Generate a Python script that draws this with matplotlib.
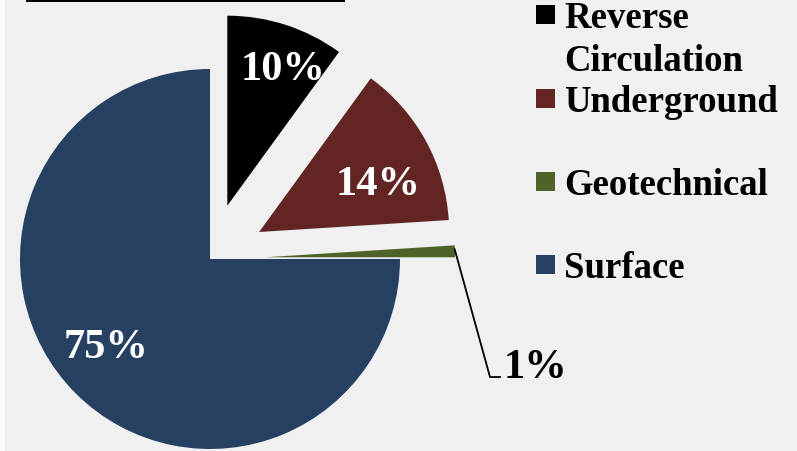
import numpy as np
import matplotlib
matplotlib.use("Agg")
import matplotlib.pyplot as plt
from matplotlib.patches import Rectangle

plt.rcParams['font.family'] = ['Liberation Serif', 'DejaVu Serif']
plt.rcParams['font.weight'] = 'bold'

# drilling type share (%)
categories = ['Reverse\nCirculation', 'Underground', 'Geotechnical', 'Surface']
shares = [10, 14, 1, 75]
colors = ['#000000', '#632523', '#4f6228', '#254061']
explode = [0.295, 0.295, 0.29, 0.0]
# label placement: fraction of radius, angle offset from slice middle (deg)
label_dist = [0.80, 0.683, None, 0.704]
label_rot = [-3.5, -4.9, 0.0, -6.1]

W, H = 797, 452
bg = '#f0f0f0'
fig = plt.figure(figsize=(W / 100, H / 100), dpi=100, facecolor=bg)
ax = fig.add_axes([0, 0, 1, 1])
ax.set_facecolor(bg)

# pie laid out in pixel units (y measured upward); explode is absolute here
cx, cy, R = 210, H - 260, 190
wedges, _ = ax.pie(shares, colors=colors, explode=[e * R for e in explode],
                   startangle=90, counterclock=False, center=(cx, cy), radius=R,
                   wedgeprops=dict(linewidth=0))
ax.set_xlim(0, W)
ax.set_ylim(0, H)
ax.set_aspect('equal')
ax.set_axis_off()

for w, val, d, rot in zip(wedges, shares, label_dist, label_rot):
    th = np.deg2rad((w.theta1 + w.theta2) / 2 + rot)
    wx, wy = w.center
    if d is not None:
        ax.text(wx + w.r * d * np.cos(th), wy + w.r * d * np.sin(th), f'{val}%',
                color='white', fontsize=30.5, fontweight='bold',
                ha='center', va='center_baseline')
    else:
        # small slice: label outside with an elbow leader line
        sx = wx + w.r * np.cos(np.deg2rad(w.theta2))
        sy = wy + w.r * np.sin(np.deg2rad(w.theta2)) - 4
        ax.plot([sx, 490, 500], [sy, H - 378, H - 378], color='black', lw=1.3,
                solid_joinstyle='miter')
        ax.text(504, H - 378, f'{val}%', color='black', fontsize=30.5,
                fontweight='bold', ha='left', va='baseline')

# legend (baseline of the first line of each entry)
leg_y = [28, 112, 195, 278]
line_step = 43
for lab, col, yb in zip(categories, colors, leg_y):
    fig.patches.append(Rectangle((536 / W, 1 - (yb - 3) / H), 19 / W, 19 / H,
                                 transform=fig.transFigure, facecolor=col,
                                 edgecolor='none'))
    for k, part in enumerate(lab.split('\n')):
        fig.text(564 / W, 1 - (yb + k * line_step) / H, part, fontsize=26.5,
                 fontweight='bold', ha='left', va='baseline')

# top border strip and pale left margin
fig.patches.append(Rectangle((26 / W, 1 - 3 / H), 319 / W, 3 / H,
                             transform=fig.transFigure, facecolor='black',
                             edgecolor='none'))
fig.patches.append(Rectangle((0, 0), 5 / W, 1, transform=fig.transFigure,
                             facecolor='#f8f9fa', edgecolor='none'))
fig.patches.append(Rectangle((5 / W, 0), 1 / W, 1, transform=fig.transFigure,
                             facecolor='#e9edf1', edgecolor='none'))

fig.savefig('out.png', dpi=100, facecolor=bg)
